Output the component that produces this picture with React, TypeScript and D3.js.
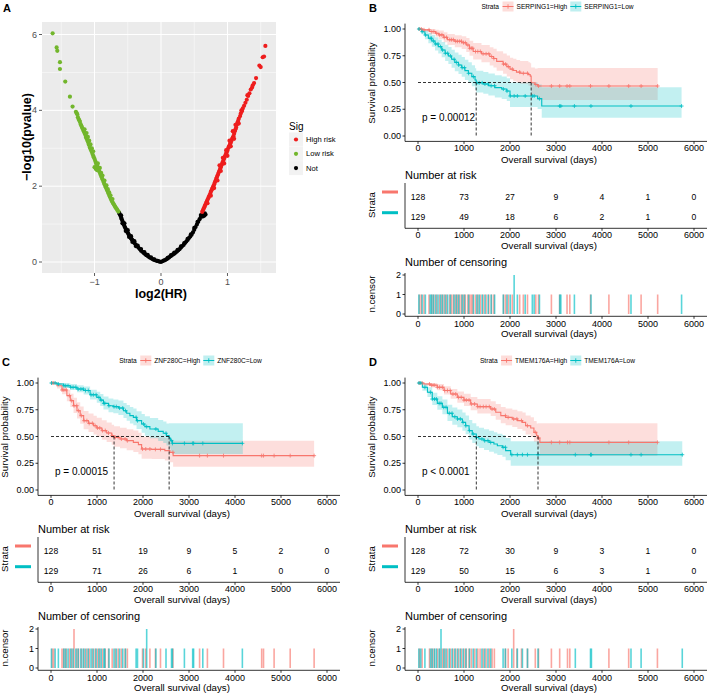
import React from 'react';
import * as d3 from 'd3';

type Step = [number, number, number, number]; // time, surv, lower, upper
type Pt = [number, number];

const FONT = '"Liberation Sans", Arial, Helvetica, sans-serif';
const HIGH_COLOR = '#F8766D';
const LOW_COLOR = '#00BFC4';

// ---------------- Panel A : volcano ----------------
const lowRiskPoints: Pt[] = [
  [-1.63, 6.03], [-1.57, 5.66], [-1.56, 5.57], [-1.52, 5.27], [-1.52, 5.09], [-1.44, 4.76], [-1.37, 4.36],
  [-1.33, 4.1], [-1.28, 3.96], [-1.27, 3.93], [-1.26, 3.9], [-1.25, 3.82], [-1.24, 3.77], [-1.23, 3.74],
  [-1.22, 3.7], [-1.21, 3.64], [-1.2, 3.6], [-1.19, 3.56], [-1.18, 3.52], [-1.17, 3.48], [-1.16, 3.44],
  [-1.15, 3.4], [-1.14, 3.36], [-1.13, 3.3], [-1.12, 3.26], [-1.11, 3.22], [-1.1, 3.18], [-1.09, 3.12],
  [-1.08, 3.08], [-1.07, 3.02], [-1.06, 2.98], [-1.05, 2.94], [-1.04, 2.9], [-1.03, 2.85], [-1.02, 2.8],
  [-1.01, 2.76], [-1.0, 2.72], [-0.99, 2.67], [-0.98, 2.62], [-0.97, 2.58], [-0.96, 2.54], [-0.95, 2.49],
  [-0.94, 2.45], [-0.93, 2.4], [-0.92, 2.36], [-0.91, 2.31], [-0.9, 2.27], [-0.89, 2.23], [-0.88, 2.18],
  [-0.87, 2.14], [-0.86, 2.1], [-0.85, 2.05], [-0.84, 2.01], [-0.83, 1.97], [-0.82, 1.93], [-0.81, 1.89],
  [-0.8, 1.85], [-0.79, 1.81], [-0.78, 1.77], [-0.77, 1.73], [-0.76, 1.69], [-0.75, 1.65], [-0.74, 1.61],
  [-0.73, 1.58], [-0.72, 1.55], [-0.71, 1.52], [-0.7, 1.49], [-0.69, 1.46], [-0.68, 1.43], [-0.67, 1.41],
  [-0.66, 1.38], [-0.65, 1.35], [-0.64, 1.33],
  [-1.15, 3.5], [-1.12, 3.4], [-1.1, 3.3], [-1.08, 3.2], [-1.06, 3.1], [-1.04, 3.0], [-1.02, 2.92],
  [-1.0, 2.5], [-0.98, 2.45], [-0.96, 2.42], [-0.95, 2.6], [-0.92, 2.48], [-0.9, 2.35], [-0.88, 2.28],
  [-0.85, 2.15], [-0.82, 2.02], [-0.8, 1.92], [-0.78, 1.84], [-0.76, 1.76], [-0.73, 1.66],
];
const highRiskPoints: Pt[] = [
  [0.62, 1.32], [0.63, 1.36], [0.64, 1.4], [0.65, 1.44], [0.66, 1.48], [0.67, 1.52], [0.68, 1.56],
  [0.69, 1.6], [0.7, 1.64], [0.71, 1.68], [0.72, 1.72], [0.73, 1.76], [0.74, 1.8], [0.75, 1.85],
  [0.76, 1.89], [0.77, 1.93], [0.78, 1.97], [0.79, 2.01], [0.8, 2.05], [0.81, 2.1], [0.82, 2.14],
  [0.83, 2.19], [0.84, 2.23], [0.85, 2.28], [0.86, 2.32], [0.87, 2.37], [0.88, 2.41], [0.89, 2.46],
  [0.9, 2.5], [0.91, 2.55], [0.92, 2.6], [0.93, 2.64], [0.94, 2.69], [0.95, 2.73], [0.96, 2.78],
  [0.97, 2.82], [0.98, 2.87], [0.99, 2.9], [1.0, 2.94], [1.01, 3.0], [1.02, 3.04], [1.03, 3.08],
  [1.04, 3.12], [1.05, 3.15], [1.06, 3.2], [1.07, 3.25], [1.08, 3.28], [1.09, 3.32], [1.1, 3.38],
  [1.11, 3.45], [1.12, 3.5], [1.13, 3.55], [1.14, 3.62], [1.15, 3.68], [1.16, 3.72], [1.17, 3.78],
  [1.19, 3.85], [1.2, 3.92], [1.21, 4.0], [1.23, 4.05], [1.25, 4.12], [1.27, 4.2], [1.29, 4.28],
  [1.31, 4.38], [1.33, 4.45], [1.35, 4.55], [1.37, 4.6], [1.38, 4.66], [1.4, 4.72], [1.43, 4.85],
  [1.48, 5.18], [1.5, 5.14], [1.53, 5.4], [1.55, 5.42], [1.57, 5.7],
  [0.7, 1.55], [0.75, 1.75], [0.8, 1.95], [0.85, 2.15], [0.9, 2.4], [0.95, 2.6], [1.0, 2.8],
  [1.05, 3.05], [1.1, 3.25], [0.88, 2.55], [0.93, 2.75], [0.98, 2.95], [1.03, 3.2], [1.08, 3.45],
  [1.12, 3.62], [1.17, 3.65], [1.22, 3.98], [1.3, 4.4],
];
const notSigPoints: Pt[] = [
  [-0.63, 1.3], [-0.62, 1.26], [-0.61, 1.22], [-0.6, 1.17], [-0.59, 1.13], [-0.58, 1.08], [-0.57, 1.04],
  [-0.56, 0.99], [-0.55, 0.95], [-0.54, 0.91], [-0.53, 0.87], [-0.52, 0.84], [-0.51, 0.8], [-0.5, 0.77],
  [-0.49, 0.74], [-0.48, 0.71], [-0.47, 0.68], [-0.46, 0.65], [-0.45, 0.62], [-0.44, 0.6], [-0.43, 0.58],
  [-0.42, 0.55], [-0.41, 0.53], [-0.4, 0.5], [-0.38, 0.46], [-0.36, 0.42], [-0.34, 0.38], [-0.32, 0.34],
  [-0.3, 0.3], [-0.28, 0.27], [-0.26, 0.24], [-0.24, 0.21], [-0.22, 0.18], [-0.2, 0.16], [-0.18, 0.13],
  [-0.16, 0.11], [-0.14, 0.09], [-0.12, 0.07], [-0.1, 0.055], [-0.08, 0.04], [-0.06, 0.03], [-0.04, 0.02],
  [-0.02, 0.01], [0, 0],
  [-0.6, 1.23], [-0.55, 1.02], [-0.5, 0.84], [-0.45, 0.68], [-0.4, 0.55], [-0.35, 0.43], [-0.3, 0.34],
  [-0.25, 0.26], [-0.2, 0.19], [-0.15, 0.12], [-0.1, 0.07], [-0.05, 0.03],
  [-0.58, 1.02], [-0.53, 0.82], [-0.48, 0.66], [-0.43, 0.53], [-0.38, 0.42],
  [0.02, 0.02], [0.04, 0.035], [0.06, 0.05], [0.08, 0.07], [0.1, 0.09], [0.12, 0.12], [0.14, 0.15],
  [0.16, 0.17], [0.18, 0.2], [0.2, 0.22], [0.22, 0.25], [0.24, 0.28], [0.26, 0.31], [0.28, 0.34],
  [0.3, 0.38], [0.32, 0.42], [0.34, 0.45], [0.36, 0.5], [0.38, 0.54], [0.4, 0.58], [0.42, 0.63],
  [0.44, 0.67], [0.46, 0.72], [0.48, 0.78], [0.5, 0.85], [0.52, 0.92], [0.54, 0.99], [0.56, 1.06],
  [0.58, 1.13], [0.6, 1.19], [0.62, 1.24], [0.64, 1.27], [0.66, 1.28], [0.65, 1.22],
  [0.1, 0.11], [0.15, 0.18], [0.2, 0.25], [0.25, 0.32], [0.3, 0.41], [0.35, 0.5], [0.4, 0.61],
  [0.45, 0.73], [0.5, 0.9], [0.55, 1.06], [0.6, 1.24], [0.63, 1.2], [0.67, 1.25],
];
const volcanoXTicks = [-1, 0, 1];
const volcanoXMinor = [-1.5, -0.5, 0.5, 1.5];
const volcanoYTicks = [0, 2, 4, 6];
const volcanoYMinor = [1, 3, 5];
const sigLevels = ['High risk', 'Low risk', 'Not'];
const sigColors = ['#EE1D1D', '#72B62C', '#000000'];

// ---------------- KM panels ----------------
const timeTicks = [0, 1000, 2000, 3000, 4000, 5000, 6000];
const survTicks = [0, 0.25, 0.5, 0.75, 1];
const censorTicks = [0, 1, 2];

// B: SERPING1
const serping1High: Step[] = [
  [0, 1, 1, 1], [100, 0.992, 0.976, 1], [250, 0.976, 0.95, 1], [380, 0.96, 0.927, 0.994],
  [450, 0.945, 0.905, 0.985], [560, 0.922, 0.876, 0.97], [640, 0.9, 0.85, 0.953], [800, 0.885, 0.83, 0.942],
  [950, 0.872, 0.813, 0.933], [1050, 0.85, 0.786, 0.915], [1120, 0.82, 0.75, 0.89], [1200, 0.79, 0.715, 0.868],
  [1380, 0.768, 0.69, 0.85], [1560, 0.743, 0.66, 0.83], [1640, 0.725, 0.64, 0.815], [1710, 0.697, 0.61, 0.792],
  [1850, 0.672, 0.582, 0.772], [1930, 0.648, 0.556, 0.752], [2000, 0.625, 0.53, 0.732], [2070, 0.612, 0.515, 0.722],
  [2140, 0.597, 0.498, 0.71], [2220, 0.586, 0.485, 0.7], [2400, 0.574, 0.47, 0.69], [2440, 0.56, 0.455, 0.68],
  [2460, 0.497, 0.388, 0.64], [2540, 0.482, 0.37, 0.632], [2600, 0.467, 0.336, 0.635], [5210, 0.467, 0.336, 0.635],
];
const serping1Low: Step[] = [
  [0, 1, 1, 1], [80, 0.975, 0.95, 1], [150, 0.944, 0.905, 0.985], [225, 0.913, 0.866, 0.962],
  [300, 0.888, 0.835, 0.944], [370, 0.86, 0.8, 0.922], [440, 0.835, 0.77, 0.9], [515, 0.804, 0.735, 0.878],
  [590, 0.773, 0.7, 0.852], [660, 0.748, 0.672, 0.832], [730, 0.717, 0.638, 0.806], [800, 0.688, 0.606, 0.78],
  [880, 0.664, 0.58, 0.76], [950, 0.639, 0.553, 0.738], [1020, 0.611, 0.523, 0.713], [1095, 0.586, 0.497, 0.69],
  [1170, 0.555, 0.465, 0.662], [1240, 0.523, 0.432, 0.633], [1265, 0.497, 0.406, 0.61], [1420, 0.486, 0.395, 0.598],
  [1530, 0.47, 0.378, 0.584], [1670, 0.452, 0.36, 0.568], [1820, 0.439, 0.346, 0.556], [1930, 0.42, 0.326, 0.54],
  [2000, 0.374, 0.27, 0.5], [2600, 0.349, 0.252, 0.482], [2690, 0.28, 0.171, 0.455], [5730, 0.28, 0.171, 0.455],
];
const serping1HighCensor = [30, 70, 130, 240, 300, 345, 405, 470, 520, 570, 620, 690, 730, 770, 820, 860, 905, 945,
  990, 1030, 1085, 1125, 1160, 1190, 1250, 1300, 1355, 1415, 1480, 1540, 1600, 1650, 1860, 1905, 1965, 2050, 2210,
  2290, 2380, 2560, 2620, 2900, 3080, 3240, 3300, 3750, 4150, 4580, 4850, 5210];
const serping1LowCensor = [20, 90, 160, 265, 295, 335, 385, 435, 490, 535, 595, 645, 705, 785, 835, 885, 960, 1010,
  1100, 1205, 1280, 1330, 1395, 1455, 1525, 1590, 1665, 1855, 1935, 2005, 2090, 2090, 2160, 2330, 2485, 2525, 2640,
  3080, 3105, 3400, 3760, 4630, 5730];
const serping1RiskHigh = [128, 73, 27, 9, 4, 1, 0];
const serping1RiskLow = [129, 49, 18, 6, 2, 1, 0];
const serping1Medians = [2460, 1265];

// C: ZNF280C
const znf280cHigh: Step[] = [
  [0, 1, 1, 1], [130, 0.975, 0.948, 1], [240, 0.935, 0.895, 0.977], [345, 0.882, 0.83, 0.937],
  [420, 0.835, 0.775, 0.9], [490, 0.788, 0.72, 0.862], [565, 0.741, 0.668, 0.82], [635, 0.695, 0.618, 0.78],
  [710, 0.648, 0.568, 0.738], [815, 0.623, 0.542, 0.715], [925, 0.601, 0.518, 0.695], [995, 0.58, 0.497, 0.676],
  [1105, 0.555, 0.47, 0.652], [1210, 0.533, 0.448, 0.632], [1320, 0.508, 0.422, 0.61], [1371, 0.492, 0.405, 0.596],
  [1500, 0.477, 0.39, 0.582], [1645, 0.461, 0.372, 0.568], [1790, 0.445, 0.356, 0.555], [1900, 0.424, 0.334, 0.536],
  [1970, 0.383, 0.293, 0.497], [2190, 0.38, 0.289, 0.494], [2475, 0.368, 0.276, 0.485], [2585, 0.352, 0.259, 0.472],
  [2655, 0.321, 0.218, 0.461], [5720, 0.321, 0.218, 0.461],
];
const znf280cLow: Step[] = [
  [0, 1, 1, 1], [130, 0.99, 0.975, 1], [275, 0.975, 0.955, 0.997], [420, 0.96, 0.935, 0.99],
  [565, 0.944, 0.913, 0.978], [710, 0.93, 0.893, 0.968], [850, 0.89, 0.845, 0.937], [995, 0.866, 0.815, 0.918],
  [1070, 0.84, 0.786, 0.897], [1140, 0.81, 0.752, 0.873], [1250, 0.788, 0.727, 0.854], [1355, 0.779, 0.717, 0.846],
  [1465, 0.766, 0.702, 0.836], [1575, 0.741, 0.674, 0.814], [1645, 0.717, 0.647, 0.794], [1715, 0.695, 0.622, 0.776],
  [1790, 0.679, 0.604, 0.762], [1860, 0.648, 0.57, 0.736], [1970, 0.617, 0.536, 0.71], [2040, 0.592, 0.508, 0.69],
  [2150, 0.57, 0.484, 0.672], [2330, 0.548, 0.459, 0.655], [2440, 0.53, 0.44, 0.64], [2510, 0.508, 0.416, 0.622],
  [2568, 0.486, 0.39, 0.625], [2600, 0.461, 0.36, 0.623], [2640, 0.436, 0.336, 0.623], [4170, 0.436, 0.336, 0.623],
];
const znf280cHighCensor = [25, 60, 240, 280, 330, 400, 450, 500, 500, 560, 600, 660, 720, 780, 830, 900, 960, 1010,
  1060, 1120, 1180, 1250, 1330, 1400, 1460, 1530, 1610, 1660, 1990, 2060, 2150, 2270, 2380, 2650, 3230, 3400, 3750,
  4580, 4620, 4850, 5200, 5720];
const znf280cLowCensor = [10, 90, 160, 280, 320, 370, 430, 480, 540, 590, 650, 700, 750, 810, 870, 920, 980, 1040,
  1090, 1150, 1170, 1260, 1370, 1420, 1490, 1560, 1620, 1850, 1880, 2010, 2080, 2080, 2280, 2500, 2620, 2640, 2900,
  3080, 3100, 3300, 4160];
const znf280cRiskHigh = [128, 51, 19, 9, 5, 2, 0];
const znf280cRiskLow = [129, 71, 26, 6, 1, 0, 0];
const znf280cMedians = [1371, 2568];

// D: TMEM176A
const tmem176aHigh: Step[] = [
  [0, 1, 1, 1], [130, 0.99, 0.975, 1], [275, 0.98, 0.96, 1], [420, 0.96, 0.932, 0.99],
  [565, 0.93, 0.893, 0.97], [710, 0.897, 0.853, 0.945], [855, 0.866, 0.816, 0.92], [1000, 0.84, 0.786, 0.9],
  [1145, 0.804, 0.745, 0.87], [1290, 0.779, 0.716, 0.85], [1580, 0.757, 0.691, 0.83], [1690, 0.726, 0.657, 0.803],
  [1800, 0.695, 0.624, 0.776], [1905, 0.679, 0.606, 0.762], [2050, 0.664, 0.589, 0.75], [2160, 0.648, 0.571, 0.737],
  [2270, 0.632, 0.553, 0.724], [2340, 0.601, 0.519, 0.697], [2450, 0.58, 0.496, 0.68], [2520, 0.539, 0.45, 0.646],
  [2580, 0.508, 0.415, 0.622], [2609, 0.486, 0.39, 0.623], [2650, 0.445, 0.32, 0.623], [5205, 0.445, 0.32, 0.623],
];
const tmem176aLow: Step[] = [
  [0, 1, 1, 1], [95, 0.96, 0.928, 0.995], [205, 0.913, 0.868, 0.96], [310, 0.85, 0.795, 0.91],
  [420, 0.81, 0.75, 0.876], [530, 0.773, 0.707, 0.846], [640, 0.717, 0.645, 0.797], [745, 0.685, 0.61, 0.77],
  [855, 0.664, 0.587, 0.752], [965, 0.632, 0.553, 0.724], [1035, 0.601, 0.52, 0.696], [1110, 0.555, 0.472, 0.654],
  [1180, 0.523, 0.44, 0.625], [1268, 0.492, 0.408, 0.596], [1325, 0.477, 0.392, 0.582], [1435, 0.461, 0.375, 0.567],
  [1545, 0.445, 0.358, 0.553], [1650, 0.43, 0.342, 0.54], [1725, 0.414, 0.326, 0.526], [1835, 0.399, 0.31, 0.513],
  [1905, 0.368, 0.278, 0.487], [2015, 0.33, 0.227, 0.455], [5745, 0.33, 0.227, 0.455],
];
const tmem176aHighCensor = [30, 90, 250, 300, 350, 420, 470, 530, 580, 640, 700, 760, 820, 880, 940, 1000, 1050, 1110,
  1160, 1230, 1300, 1350, 1420, 1480, 1550, 1610, 1660, 1900, 1960, 2080, 2080, 2150, 2250, 2380, 2550, 2620, 2900,
  3080, 3250, 3300, 4150, 4580, 5205];
const tmem176aLowCensor = [20, 60, 150, 270, 310, 360, 400, 460, 500, 500, 560, 610, 680, 740, 800, 860, 920, 980,
  1040, 1120, 1200, 1270, 1390, 1450, 1520, 1580, 1850, 1900, 2040, 2160, 2270, 2380, 2610, 3420, 3750, 3770, 4630,
  4850, 5745];
const tmem176aRiskHigh = [128, 72, 30, 9, 3, 1, 0];
const tmem176aRiskLow = [129, 50, 15, 6, 3, 1, 0];
const tmem176aMedians = [2609, 1268];

// ---------------- helpers ----------------
let measureCtx: CanvasRenderingContext2D | null = null;
function textWidth(s: string, size: number, weight = 'normal'): number {
  if (!measureCtx) measureCtx = document.createElement('canvas').getContext('2d');
  if (!measureCtx) return s.length * size * 0.55;
  measureCtx.font = `${weight} ${size}px "Liberation Sans", Arial, sans-serif`;
  return measureCtx.measureText(s).width;
}

function survAt(curve: Step[], t: number): number {
  let s = curve[0][1];
  for (const p of curve) if (p[0] <= t) s = p[1];
  return s;
}

function fmtSurv(v: number) {
  return v.toFixed(2);
}

// ---------------- Volcano panel ----------------
function VolcanoPanel() {
  const x = d3.scaleLinear().domain([-1.79, 1.73]).range([42, 276]);
  const y = d3.scaleLinear().domain([-0.29, 6.33]).range([273, 22]);
  const [x0, x1] = x.range();
  const [y0, y1] = y.range();
  const groups: [Pt[], string][] = [
    [notSigPoints, sigColors[2]],
    [lowRiskPoints, sigColors[1]],
    [highRiskPoints, sigColors[0]],
  ];
  return (
    <g fontFamily={FONT}>
      <text x={3} y={12} fontSize={11} fontWeight="bold">A</text>
      <rect x={x0} y={y1} width={x1 - x0} height={y0 - y1} fill="#EBEBEB" />
      {volcanoXMinor.map((v) => (
        <line key={'xm' + v} x1={x(v)} x2={x(v)} y1={y1} y2={y0} stroke="#fff" strokeWidth={0.5} />
      ))}
      {volcanoYMinor.map((v) => (
        <line key={'ym' + v} x1={x0} x2={x1} y1={y(v)} y2={y(v)} stroke="#fff" strokeWidth={0.5} />
      ))}
      {volcanoXTicks.map((v) => (
        <line key={'xt' + v} x1={x(v)} x2={x(v)} y1={y1} y2={y0} stroke="#fff" strokeWidth={1} />
      ))}
      {volcanoYTicks.map((v) => (
        <line key={'yt' + v} x1={x0} x2={x1} y1={y(v)} y2={y(v)} stroke="#fff" strokeWidth={1} />
      ))}
      {groups.map(([pts, col], gi) => (
        <g key={gi} fill={col}>
          {pts.map((p, i) => (
            <circle key={i} cx={x(p[0])} cy={y(p[1])} r={2.1} />
          ))}
        </g>
      ))}
      {volcanoXTicks.map((v) => (
        <g key={'xl' + v}>
          <line x1={x(v)} x2={x(v)} y1={y0} y2={y0 + 3} stroke="#333" strokeWidth={0.8} />
          <text x={x(v)} y={y0 + 11.5} fontSize={9} fill="#4D4D4D" textAnchor="middle">
            {v < 0 ? '\u2212' + Math.abs(v) : String(v)}
          </text>
        </g>
      ))}
      {volcanoYTicks.map((v) => (
        <g key={'yl' + v}>
          <line x1={x0 - 3} x2={x0} y1={y(v)} y2={y(v)} stroke="#333" strokeWidth={0.8} />
          <text x={x0 - 5} y={y(v)} dy="0.35em" fontSize={9} fill="#4D4D4D" textAnchor="end">{v}</text>
        </g>
      ))}
      <text x={x(0)} y={298} fontSize={12.5} fontWeight="bold" textAnchor="middle">log2(HR)</text>
      <text transform={`translate(27,137) rotate(-90)`} dy="0.35em" fontSize={12.5} fontWeight="bold" textAnchor="middle">
        {'\u2212log10(pvalue)'}
      </text>
      <text x={289} y={130} fontSize={10}>Sig</text>
      {sigLevels.map((lab, i) => (
        <g key={lab}>
          <rect x={289} y={132.5 + i * 14.3} width={14} height={14} fill="#F2F2F2" />
          <circle cx={296} cy={139.5 + i * 14.3} r={2.1} fill={sigColors[i]} />
          <text x={306} y={139.5 + i * 14.3} dy="0.35em" fontSize={7.6}>{lab}</text>
        </g>
      ))}
    </g>
  );
}

// ---------------- KM panel ----------------
interface KMConfig {
  letter: string;
  gene: string;
  pText: string;
  high: Step[];
  low: Step[];
  highCensor: number[];
  lowCensor: number[];
  riskHigh: number[];
  riskLow: number[];
  medians: number[];
  dx: number;
  dy: number;
}

function KMPanel({ cfg }: { cfg: KMConfig }) {
  const x = d3.scaleLinear().domain([0, 6000]).range([418, 694]);
  const y = d3.scaleLinear().domain([0, 1]).range([136, 29]);
  const yc = d3.scaleLinear().domain([0, 2]).range([314, 275]);
  const axL = 405;
  const axR = 707;
  const mainAxisY = 141.4;
  const riskAxisY = 228.3;
  const censAxisY = 316.3;
  const area = d3
    .area<Step>()
    .x((d) => x(d[0]))
    .y0((d) => y(d[2]))
    .y1((d) => y(d[3]))
    .curve(d3.curveStepAfter);
  const line = d3
    .line<Step>()
    .x((d) => x(d[0]))
    .y((d) => y(d[1]))
    .curve(d3.curveStepAfter);

  const groups = [
    { curve: cfg.high, censor: cfg.highCensor, color: HIGH_COLOR, label: `${cfg.gene}=High`, risk: cfg.riskHigh, rowY: 197, keyY: 192 },
    { curve: cfg.low, censor: cfg.lowCensor, color: LOW_COLOR, label: `${cfg.gene}=Low`, risk: cfg.riskLow, rowY: 217, keyY: 212.7 },
  ];

  // legend layout
  const lf = 6.6;
  const keyW = 11;
  const titleW = textWidth('Strata', lf);
  const w0 = textWidth(groups[0].label, lf);
  const w1 = textWidth(groups[1].label, lf);
  const total = titleW + 3.5 + keyW + 3 + w0 + 3 + keyW + 3 + w1;
  const lx0 = 557.5 - total / 2;
  const key0 = lx0 + titleW + 3.5;
  const key1 = key0 + keyW + 3 + w0 + 3;
  const legY = 6.5;

  const maxMed = Math.max(...cfg.medians);
  const plus = (cx: number, cy: number, h = 2) => `M${cx - h},${cy}h${2 * h}M${cx},${cy - h}v${2 * h}`;

  return (
    <g transform={`translate(${cfg.dx},${cfg.dy})`} fontFamily={FONT}>
      <text x={369} y={11.5} fontSize={11} fontWeight="bold">{cfg.letter}</text>
      {/* legend */}
      <text x={lx0} y={legY} dy="0.35em" fontSize={lf}>Strata</text>
      {[key0, key1].map((kx, i) => (
        <g key={i}>
          <rect x={kx} y={legY - 5} width={keyW} height={10} fill={groups[i].color} fillOpacity={0.25} />
          <line x1={kx} x2={kx + keyW} y1={legY} y2={legY} stroke={groups[i].color} strokeWidth={1} />
          <path d={plus(kx + keyW / 2, legY, 2.2)} stroke={groups[i].color} strokeWidth={0.9} />
          <text x={kx + keyW + 3} y={legY} dy="0.35em" fontSize={lf}>{groups[i].label}</text>
        </g>
      ))}

      {/* survival plot */}
      {groups.map((g, i) => (
        <path key={'band' + i} d={area(g.curve) || ''} fill={g.color} fillOpacity={0.24} />
      ))}
      {groups.map((g, i) => (
        <path key={'line' + i} d={line(g.curve) || ''} fill="none" stroke={g.color} strokeWidth={1.1} />
      ))}
      {groups.map((g, i) => (
        <path
          key={'cm' + i}
          d={Array.from(new Set(g.censor)).map((t) => plus(x(t), y(survAt(g.curve, t)))).join('')}
          stroke={g.color}
          strokeWidth={0.8}
          fill="none"
        />
      ))}
      <g stroke="#000" strokeWidth={0.8} strokeDasharray="3,2" fill="none">
        <line x1={x(0)} x2={x(maxMed)} y1={y(0.5)} y2={y(0.5)} />
        {cfg.medians.map((m, i) => (
          <line key={i} x1={x(m)} x2={x(m)} y1={y(0.5)} y2={y(0)} />
        ))}
      </g>
      <text x={x(0) + 4} y={120.5} fontSize={10}>{cfg.pText}</text>
      <line x1={axL} x2={axL} y1={23.6} y2={mainAxisY} stroke="#000" strokeWidth={0.8} />
      <line x1={axL} x2={axR} y1={mainAxisY} y2={mainAxisY} stroke="#000" strokeWidth={0.8} />
      {survTicks.map((v) => (
        <g key={'st' + v}>
          <line x1={axL - 2.5} x2={axL} y1={y(v)} y2={y(v)} stroke="#000" strokeWidth={0.8} />
          <text x={axL - 4} y={y(v)} dy="0.35em" fontSize={9} textAnchor="end">{fmtSurv(v)}</text>
        </g>
      ))}
      {timeTicks.map((t) => (
        <g key={'tt' + t}>
          <line x1={x(t)} x2={x(t)} y1={mainAxisY} y2={mainAxisY + 2.5} stroke="#000" strokeWidth={0.8} />
          <text x={x(t)} y={151.3} fontSize={9} textAnchor="middle">{t}</text>
        </g>
      ))}
      <text x={549} y={162.5} fontSize={9.7} textAnchor="middle">Overall survival (days)</text>
      <text transform="translate(372,83) rotate(-90)" dy="0.35em" fontSize={9.7} textAnchor="middle">Survival probability</text>

      {/* risk table */}
      <text x={axL} y={179} fontSize={11}>Number at risk</text>
      <line x1={axL} x2={axL} y1={183} y2={riskAxisY} stroke="#000" strokeWidth={0.8} />
      <line x1={axL} x2={axR} y1={riskAxisY} y2={riskAxisY} stroke="#000" strokeWidth={0.8} />
      {groups.map((g, i) => (
        <g key={'risk' + i}>
          <rect x={382} y={g.keyY - 1.5} width={16} height={3} fill={g.color} />
          {g.risk.map((n, j) => (
            <text key={j} x={x(timeTicks[j])} y={g.rowY} dy="0.35em" fontSize={8.6} textAnchor="middle">{n}</text>
          ))}
        </g>
      ))}
      {timeTicks.map((t) => (
        <g key={'rt' + t}>
          <line x1={x(t)} x2={x(t)} y1={riskAxisY} y2={riskAxisY + 2.5} stroke="#000" strokeWidth={0.8} />
          <text x={x(t)} y={238} fontSize={9} textAnchor="middle">{t}</text>
        </g>
      ))}
      <text x={549} y={248.5} fontSize={9.7} textAnchor="middle">Overall survival (days)</text>
      <text transform="translate(372,205) rotate(-90)" dy="0.35em" fontSize={9.7} textAnchor="middle">Strata</text>

      {/* censoring */}
      <text x={axL} y={266} fontSize={11}>Number of censoring</text>
      {groups.map((g, i) => (
        <g key={'cb' + i} fill={g.color} fillOpacity={0.65}>
          {d3.rollups(g.censor, (v) => v.length, (d) => d).map(([t, n]) => (
            <rect key={t} x={x(t) - 0.8} y={yc(n)} width={1.6} height={yc(0) - yc(n)} />
          ))}
        </g>
      ))}
      <line x1={axL} x2={axL} y1={273} y2={censAxisY} stroke="#000" strokeWidth={0.8} />
      <line x1={axL} x2={axR} y1={censAxisY} y2={censAxisY} stroke="#000" strokeWidth={0.8} />
      {censorTicks.map((v) => (
        <g key={'ct' + v}>
          <line x1={axL - 2.5} x2={axL} y1={yc(v)} y2={yc(v)} stroke="#000" strokeWidth={0.8} />
          <text x={axL - 4} y={yc(v)} dy="0.35em" fontSize={9} textAnchor="end">{v}</text>
        </g>
      ))}
      {timeTicks.map((t) => (
        <g key={'cx' + t}>
          <line x1={x(t)} x2={x(t)} y1={censAxisY} y2={censAxisY + 2.5} stroke="#000" strokeWidth={0.8} />
          <text x={x(t)} y={326.5} fontSize={9} textAnchor="middle">{t}</text>
        </g>
      ))}
      <text x={549} y={336.5} fontSize={9.7} textAnchor="middle">Overall survival (days)</text>
      <text transform="translate(372,294) rotate(-90)" dy="0.35em" fontSize={9.7} textAnchor="middle">n.censor</text>
    </g>
  );
}

const kmPanels: KMConfig[] = [
  {
    letter: 'B', gene: 'SERPING1', pText: 'p = 0.00012', high: serping1High, low: serping1Low,
    highCensor: serping1HighCensor, lowCensor: serping1LowCensor, riskHigh: serping1RiskHigh, riskLow: serping1RiskLow,
    medians: serping1Medians, dx: 0, dy: 0,
  },
  {
    letter: 'C', gene: 'ZNF280C', pText: 'p = 0.00015', high: znf280cHigh, low: znf280cLow,
    highCensor: znf280cHighCensor, lowCensor: znf280cLowCensor, riskHigh: znf280cRiskHigh, riskLow: znf280cRiskLow,
    medians: znf280cMedians, dx: -367, dy: 354,
  },
  {
    letter: 'D', gene: 'TMEM176A', pText: 'p < 0.0001', high: tmem176aHigh, low: tmem176aLow,
    highCensor: tmem176aHighCensor, lowCensor: tmem176aLowCensor, riskHigh: tmem176aRiskHigh, riskLow: tmem176aRiskLow,
    medians: tmem176aMedians, dx: 0, dy: 354,
  },
];

export default function App() {
  return (
    <svg
      width={709}
      height={693}
      viewBox="0 0 709 693"
      style={{ position: 'absolute', left: 0, top: 0, background: '#fff' }}
    >
      <rect width={709} height={693} fill="#fff" />
      <VolcanoPanel />
      {kmPanels.map((c) => (
        <KMPanel key={c.letter} cfg={c} />
      ))}
    </svg>
  );
}
